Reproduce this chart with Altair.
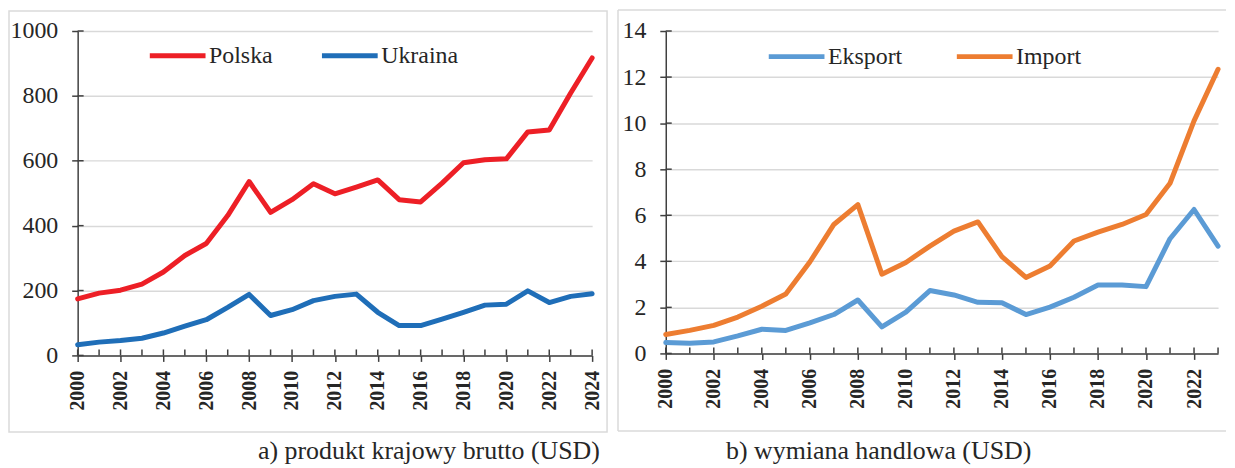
import altair as alt
import pandas as pd

# ---------------- data ----------------
years_a = list(range(2000, 2025))
polska = [174, 192, 201, 220, 257, 308, 345, 431, 536, 441, 480, 529, 498,
          519, 541, 480, 473, 531, 594, 603, 606, 689, 695, 809, 917]
ukraina = [33, 41, 46, 53, 69, 90, 110, 148, 188, 123, 141, 169, 182,
           189, 133, 92, 92, 112, 133, 155, 158, 199, 163, 182, 190]

years_b = list(range(2000, 2024))
eksport = [0.47, 0.44, 0.50, 0.76, 1.05, 1.00, 1.33, 1.69, 2.32, 1.15, 1.79, 2.73,
           2.54, 2.22, 2.20, 1.69, 2.01, 2.44, 2.97, 2.97, 2.90, 4.98, 6.25, 4.66]
import_vals = [0.82, 1.00, 1.22, 1.58, 2.05, 2.58, 3.97, 5.60, 6.46, 3.44, 3.95, 4.66,
               5.31, 5.71, 4.20, 3.30, 3.80, 4.88, 5.27, 5.60, 6.03, 7.39, 10.10, 12.34]

series_a = ["Polska", "Ukraina"]
colors_a = ["#ED1F26", "#1F6EB8"]
series_b = ["Eksport", "Import"]
colors_b = ["#5B9BD5", "#ED7D31"]

yticks_a = [0, 200, 400, 600, 800, 1000]
yticks_b = [0, 2, 4, 6, 8, 10, 12, 14]

caption_a = "a) produkt krajowy brutto (USD)"
caption_b = "b) wymiana handlowa (USD)"

# ---------------- style ----------------
FONT = "Liberation Serif"
GRID = "#D9D9D9"
AXIS = "#404040"
TEXT = "#262626"
FRAME = "#DADADA"


def long_df(years, names, lists):
    rows = []
    for n, vals in zip(names, lists):
        for yr, v in zip(years, vals):
            rows.append({"year": yr, "value": v, "series": n})
    return pd.DataFrame(rows)


def panel(years, names, lists, colors, ymax, yticks, W, H,
          legend_x, legend_y, col_pad, caption, cap_x, frame_layers):
    df = long_df(years, names, lists)
    x = alt.X(
        "year:Q",
        scale=alt.Scale(domain=[years[0], years[-1]], nice=False, zero=False),
        axis=alt.Axis(
            values=years, format="d",
            labelExpr="datum.value % 2 == 0 ? datum.label : ''",
            labelAngle=270, labelFont=FONT, labelFontSize=20,
            labelFontWeight="bold", labelColor=TEXT, labelPadding=9,
            labelOverlap=False, labelFlush=False,
            tickSize=6, tickColor=AXIS, tickWidth=1.5,
            domainColor=AXIS, domainWidth=1.5, grid=False, title=None,
        ),
    )
    y = alt.Y(
        "value:Q",
        scale=alt.Scale(domain=[0, ymax], nice=False),
        axis=alt.Axis(
            values=yticks, format="d", labelFont=FONT, labelFontSize=24,
            labelColor=TEXT, labelPadding=14, labelFlush=False,
            labelOverlap=False, tickSize=6, tickColor=AXIS, tickWidth=1.5,
            domainColor=AXIS, domainWidth=1.5, grid=True, gridColor=GRID,
            gridWidth=1.5, title=None,
        ),
    )
    lines = alt.Chart(df).mark_line(
        strokeWidth=5, strokeCap="round", strokeJoin="round"
    ).encode(
        x=x, y=y,
        color=alt.Color(
            "series:N",
            scale=alt.Scale(domain=names, range=colors),
            legend=alt.Legend(
                orient="none", legendX=legend_x, legendY=legend_y,
                direction="horizontal", title=None, symbolType="stroke",
                symbolSize=3136, symbolStrokeWidth=5, labelFont=FONT,
                labelFontSize=24, labelColor=TEXT, labelOffset=1,
                columnPadding=col_pad, padding=0,
            ),
        ),
    )
    xt = alt.Chart(pd.DataFrame({"year": years})).mark_rule(
        color=AXIS, strokeWidth=1.5
    ).encode(x=alt.X("year:Q"), y=alt.value(H - 6), y2=alt.value(H))
    yt = alt.Chart(pd.DataFrame({"value": yticks})).mark_rule(
        color=AXIS, strokeWidth=1.5
    ).encode(y=alt.Y("value:Q"), x=alt.value(0), x2=alt.value(6))
    one = pd.DataFrame({"k": [0]})
    cap = alt.Chart(one).mark_text(
        font=FONT, fontSize=26, color=TEXT, align="center", baseline="alphabetic"
    ).encode(x=alt.value(cap_x), y=alt.value(430), text=alt.value(caption))
    return alt.layer(*frame_layers, lines, xt, yt, cap).properties(width=W, height=H)


one = pd.DataFrame({"k": [0]})
frame_a = [
    alt.Chart(one).mark_rect(fillOpacity=0, stroke=FRAME, strokeWidth=1.5).encode(
        x=alt.value(-69), x2=alt.value(532), y=alt.value(-20), y2=alt.value(403)
    )
]
rule_style = dict(color=FRAME, strokeWidth=1.5)
frame_b = [
    alt.Chart(one).mark_rule(**rule_style).encode(
        x=alt.value(-48), x2=alt.value(563), y=alt.value(-21)),
    alt.Chart(one).mark_rule(**rule_style).encode(
        x=alt.value(-48), y=alt.value(-21), y2=alt.value(402)),
    alt.Chart(one).mark_rule(**rule_style).encode(
        x=alt.value(-48), x2=alt.value(563), y=alt.value(402)),
]

left = panel(years_a, series_a, [polska, ukraina], colors_a, 1000, yticks_a,
             517, 326, 70, -6, 38, caption_a, 353, frame_a)
right = panel(years_b, series_b, [eksport, import_vals], colors_b, 14, yticks_b,
              555, 324, 101, -5, 44, caption_b, 214, frame_b)

chart = alt.hconcat(left, right, spacing=74, bounds="flush").resolve_scale(
    color="independent"
).resolve_legend(color="independent").properties(
    padding=0
).configure_view(stroke=None)

chart.save("out.html", embed_options={"renderer": "svg", "actions": False})
